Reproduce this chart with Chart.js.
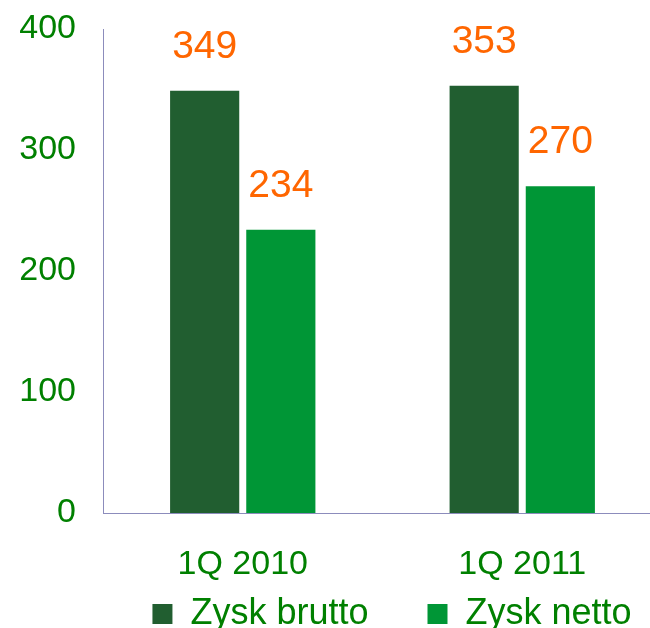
<!DOCTYPE html>
<html>
<head>
<meta charset="utf-8">
<script src="https://cdn.jsdelivr.net/npm/chart.js@4"></script>
<style>
html,body{margin:0;padding:0;background:#fff;overflow:hidden}
#wrap{width:662px;height:628px}
</style>
</head>
<body>
<div id="wrap"><canvas id="chartCanvas" width="662" height="628"></canvas></div>
<script>
const categories = ["1Q 2010", "1Q 2011"]
const seriesNames = ["Zysk brutto", "Zysk netto"]
const bruttoValues = [349, 353]
const nettoValues = [234, 270]
const yTicks = [0, 100, 200, 300, 400]

const green = "#008000"
const axisColor = "#8c8cbc"

// value labels above each bar
const valueLabels = {
    id: "valueLabels",
    afterDatasetsDraw(chart){
        const ctx = chart.ctx
        ctx.save()
        ctx.font = "39px 'Liberation Sans', Arial, sans-serif"
        ctx.fillStyle = "#ff6600"
        ctx.textAlign = "center"
        ctx.textBaseline = "alphabetic"
        chart.data.datasets.forEach((ds, i) => {
            chart.getDatasetMeta(i).data.forEach((bar, j) => {
                ctx.fillText(ds.data[j], bar.x, bar.y - 33)
            })
        })
        ctx.restore()
    }
}

// move the legend to where the original has it
const legendShift = {
    id: "legendShift",
    afterLayout(chart){
        const lg = chart.legend
        lg.left += 61
        lg.right += 61
        lg.top = 537
        lg.bottom = chart.height
    }
}

Chart.defaults.font.family = "'Liberation Sans', Arial, sans-serif"

new Chart(document.getElementById("chartCanvas"), {
    type: "bar",
    data: {
        labels: categories,
        datasets: [{
            label: seriesNames[0],
            data: bruttoValues,
            backgroundColor: "#215e30"
        }, {
            label: seriesNames[1],
            data: nettoValues,
            backgroundColor: "#009636"
        }]
    },
    options: {
        responsive: false,
        animation: false,
        layout: { padding: { top: 29 } },
        datasets: {
            bar: { categoryPercentage: 0.545, barPercentage: 0.908, borderWidth: 0 }
        },
        scales: {
            x: {
                grid: { display: false, drawTicks: false },
                border: { color: axisColor, width: 1 },
                ticks: { color: green, font: { size: 34 }, padding: 31 },
                afterFit(scale){ scale.height = 80 }
            },
            y: {
                min: 0,
                max: 400,
                grid: { display: false, drawTicks: false },
                border: { color: axisColor, width: 1 },
                afterBuildTicks(scale){ scale.ticks = yTicks.map(v => ({ value: v })) },
                ticks: { color: green, font: { size: 34 }, padding: 27 },
                afterFit(scale){
                    scale.width = 103
                    scale.paddingTop = 0
                    scale.paddingBottom = 0
                }
            }
        },
        plugins: {
            legend: {
                position: "bottom",
                maxHeight: 35,
                labels: {
                    color: green,
                    font: { size: 36 },
                    boxWidth: 20,
                    boxHeight: 20,
                    padding: 59
                }
            },
            tooltip: { enabled: false }
        }
    },
    plugins: [valueLabels, legendShift]
})
</script>
</body>
</html>
